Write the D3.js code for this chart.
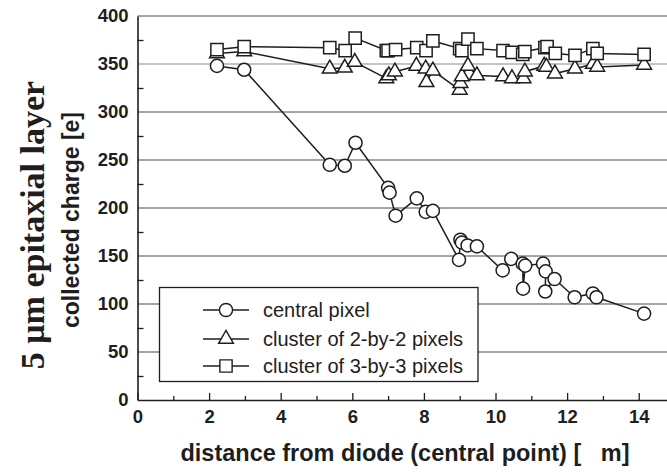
<!DOCTYPE html>
<html><head><meta charset="utf-8">
<script src="https://cdn.jsdelivr.net/npm/d3@7"></script>
<style>body{margin:0;background:#fff}svg{display:block}</style>
</head><body>
<svg id="chart" width="667" height="472"></svg>
<script>
// ---- data ----
const xTickValues = [0, 2, 4, 6, 8, 10, 12, 14];
const xMinorTicks = [1, 3, 5, 7, 9, 11, 13];
const yTickValues = [0, 50, 100, 150, 200, 250, 300, 350, 400];
const yMinorTicks = [25, 75, 125, 175, 225, 275, 325, 375];

const seriesNames = ["central pixel", "cluster of 2-by-2 pixels", "cluster of 3-by-3 pixels"];

const xCentral = [2.22, 2.98, 5.37, 5.79, 6.09, 7.0, 7.04, 7.21, 7.8, 8.05, 8.25, 8.98, 9.02, 9.06, 9.22, 9.48, 10.2, 10.44, 10.76, 10.77, 10.83, 11.33, 11.4, 11.39, 11.65, 12.21, 12.72, 12.82, 14.15];
const yCentral = [348, 344, 245, 244, 268, 221, 216, 192, 210, 196, 197, 146, 167, 164, 161, 160, 135, 147, 142, 116, 140, 142, 134, 113, 126, 107, 111, 107, 90];

const xCluster2 = [2.22, 2.98, 5.37, 5.79, 6.07, 6.95, 7.02, 7.19, 7.79, 8.05, 8.07, 8.25, 9.0, 9.02, 9.06, 9.23, 9.48, 10.21, 10.46, 10.78, 10.82, 11.36, 11.42, 11.66, 12.22, 12.72, 12.84, 14.15];
const yCluster2 = [361, 363, 345, 346, 352, 335, 338, 342, 348, 345, 331, 343, 323, 330, 337, 348, 338, 337, 335, 335, 342, 348, 347, 340, 345, 350, 347, 349];

const xCluster3 = [2.22, 2.98, 5.37, 5.8, 6.08, 6.95, 7.0, 7.21, 7.8, 8.06, 8.25, 9.0, 9.06, 9.23, 9.48, 10.21, 10.46, 10.76, 10.82, 11.38, 11.44, 11.67, 12.22, 12.72, 12.84, 14.15];
const yCluster3 = [365, 368, 367, 364, 377, 364, 364, 365, 367, 364, 374, 366, 364, 376, 366, 364, 362, 360, 363, 367, 368, 361, 359, 366, 361, 360];

// ---- layout ----
const svg = d3.select("#chart");
const W = 667;
const x = d3.scaleLinear().domain([0, 14.79]).range([137.5, 667]);
const y = d3.scaleLinear().domain([0, 400]).range([400, 16]);
const ink = "#1e1e1e";
const sans = "'Liberation Sans', Arial, Helvetica, sans-serif";

// gridlines
svg.append("g").selectAll("line").data(yTickValues.filter(v => v > 0)).join("line")
  .attr("x1", x(0)).attr("x2", W)
  .attr("y1", d => y(d)).attr("y2", d => y(d))
  .attr("stroke", d => d === 350 ? "#8a8a8a" : "#4a4a4a").attr("stroke-width", 1.2);

// y axis
svg.append("g").attr("transform", `translate(${x(0)},0)`)
  .call(d3.axisLeft(y).tickValues(yTickValues).tickSize(0).tickSizeOuter(0).tickPadding(9));
svg.append("g").attr("transform", `translate(${x(0)},0)`)
  .call(d3.axisLeft(y).tickValues(yMinorTicks).tickSize(-6).tickSizeOuter(0).tickFormat(""))
  .call(g => g.select(".domain").remove());

// x axis
svg.append("g").attr("transform", `translate(0,${y(0)})`)
  .call(d3.axisBottom(x).tickValues(xTickValues).tickSize(-7).tickSizeOuter(0).tickPadding(10));
svg.append("g").attr("transform", `translate(0,${y(0)})`)
  .call(d3.axisBottom(x).tickValues(xMinorTicks).tickSize(-4).tickSizeOuter(0).tickFormat(""))
  .call(g => g.select(".domain").remove());

svg.selectAll(".domain").attr("stroke", ink).attr("stroke-width", 1.6);
svg.selectAll(".tick line").attr("stroke", ink).attr("stroke-width", 1.3);
svg.selectAll(".tick text")
  .attr("font-family", sans)
  .attr("font-weight", "bold").attr("font-size", 18.5).attr("fill", ink);

// axis titles
svg.append("text")
  .attr("transform", `translate(44,225) rotate(-90)`)
  .attr("text-anchor", "middle")
  .attr("font-family", "'Liberation Serif', 'Times New Roman', serif")
  .attr("font-weight", "bold").attr("font-size", 34).attr("fill", ink)
  .text("5 μm epitaxial layer");
svg.append("text")
  .attr("transform", `translate(79,220) rotate(-90)`)
  .attr("text-anchor", "middle")
  .attr("font-family", sans)
  .attr("font-weight", "bold").attr("font-size", 23).attr("fill", ink)
  .text("collected charge [e]");
svg.append("text")
  .attr("x", 405).attr("y", 461)
  .attr("text-anchor", "middle")
  .attr("font-family", sans)
  .attr("font-weight", "bold").attr("font-size", 23.5).attr("fill", ink)
  .text("distance from diode (central point) [\u00a0\u00a0\u00a0m]");

// series
const symbols = [d3.symbolCircle, d3.symbolTriangle, d3.symbolSquare];
const symSizes = [135, 95, 150];
const seriesData = [
  d3.zip(xCentral, yCentral),
  d3.zip(xCluster2, yCluster2),
  d3.zip(xCluster3, yCluster3)
];
const line = d3.line().x(d => x(d[0])).y(d => y(d[1]));

seriesData.forEach((data, i) => {
  const g = svg.append("g");
  g.append("path").datum(data).attr("d", line)
    .attr("fill", "none").attr("stroke", ink).attr("stroke-width", 1.5);
  g.selectAll("path.m").data(data).join("path").attr("class", "m")
    .attr("transform", d => `translate(${x(d[0])},${y(d[1])})`)
    .attr("d", d3.symbol(symbols[i], symSizes[i]))
    .attr("fill", "#fff").attr("stroke", ink).attr("stroke-width", 1.5);
});

// legend
const leg = svg.append("g");
leg.append("rect").attr("x", 159.5).attr("y", 287.5).attr("width", 318.5).attr("height", 94)
  .attr("fill", "#fff").attr("stroke", ink).attr("stroke-width", 1.3);
const rowY = [310, 339, 366];
seriesNames.forEach((name, i) => {
  const row = leg.append("g").attr("transform", `translate(0,${rowY[i]})`);
  row.append("line").attr("x1", 203).attr("x2", 249).attr("y1", 0).attr("y2", 0)
    .attr("stroke", ink).attr("stroke-width", 1.4);
  row.append("path").attr("transform", "translate(226,0)")
    .attr("d", d3.symbol(symbols[i], symSizes[i]))
    .attr("fill", "#fff").attr("stroke", ink).attr("stroke-width", 1.4);
  row.append("text").attr("x", 263).attr("y", 7)
    .attr("font-family", sans)
    .attr("font-size", 20).attr("fill", ink).text(name);
});
</script>
</body></html>
